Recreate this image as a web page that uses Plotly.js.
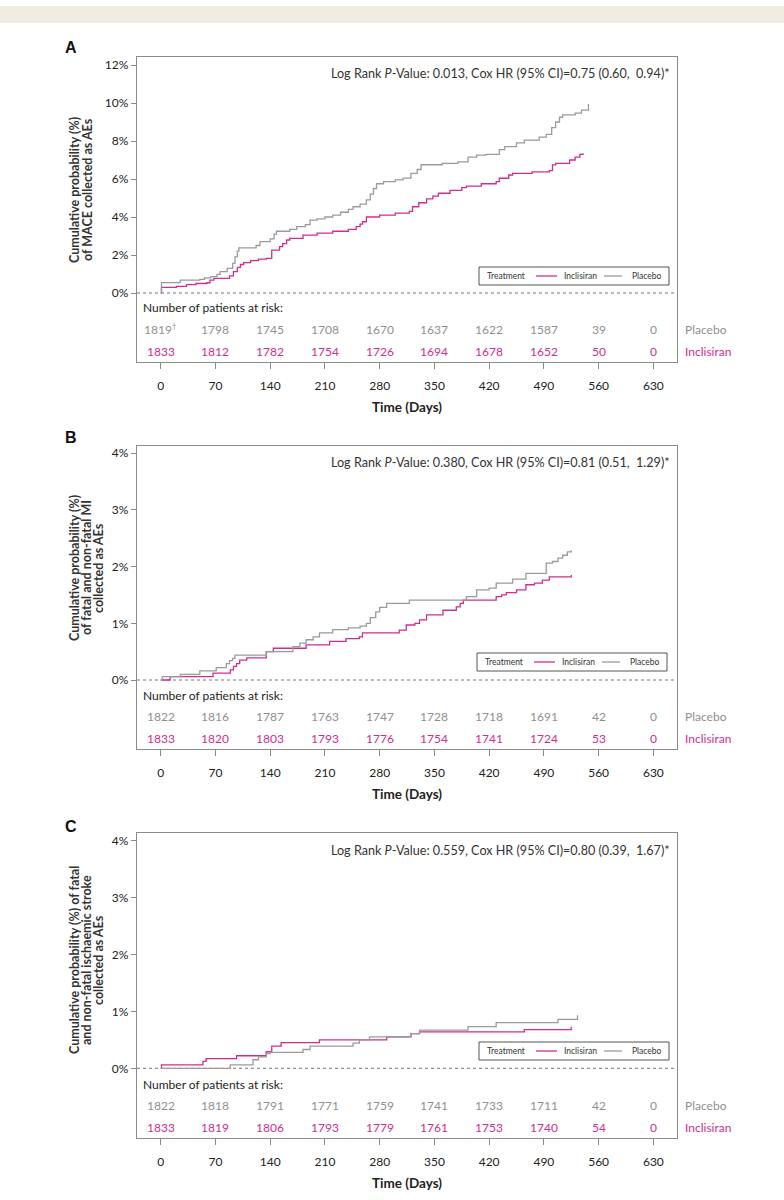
<!DOCTYPE html>
<html>
<head>
<meta charset="utf-8">
<script src="https://cdn.plot.ly/plotly-3.0.1.min.js"></script>
<style>html,body{margin:0;padding:0;background:#fff;}#chart{width:784px;height:1200px;}</style>
</head>
<body>
<div id="chart"></div>
<script>
// ---------- data ----------
const timeTicks = [0, 70, 140, 210, 280, 350, 420, 490, 560, 630];

// Panel A: MACE
const aPlaceboT = [0, 1, 25, 50, 56, 64, 72, 76, 85, 92, 95, 98, 100, 122, 127, 140, 145, 148, 165, 174, 185, 191, 200, 210, 220, 230, 240, 246, 255, 263, 268, 272, 276, 285, 300, 310, 320, 328, 333, 360, 380, 393, 404, 416, 433, 440, 455, 465, 484, 493, 500, 505, 510, 514, 530, 538, 546, 547];
const aPlaceboP = [0, 0.55, 0.68, 0.72, 0.8, 0.86, 0.98, 1.12, 1.3, 1.56, 1.9, 2.2, 2.38, 2.5, 2.7, 2.85, 3.1, 3.25, 3.35, 3.49, 3.6, 3.84, 3.9, 4.0, 4.1, 4.25, 4.4, 4.54, 4.68, 4.9, 5.2, 5.5, 5.75, 5.86, 5.95, 6.05, 6.3, 6.5, 6.75, 6.82, 6.9, 7.15, 7.26, 7.3, 7.55, 7.7, 7.9, 8.05, 8.2, 8.35, 8.7, 9.0, 9.25, 9.37, 9.47, 9.63, 9.63, 9.95];
const aInclT = [0, 1, 20, 33, 45, 59, 63, 68, 88, 93, 98, 102, 106, 115, 125, 135, 142, 152, 156, 161, 165, 182, 200, 220, 240, 250, 255, 258, 263, 280, 300, 318, 322, 330, 340, 348, 355, 370, 385, 391, 410, 429, 433, 445, 450, 475, 497, 501, 505, 523, 530, 536, 540];
const aInclP = [0, 0.3, 0.35, 0.44, 0.5, 0.54, 0.68, 0.77, 0.9, 1.12, 1.35, 1.5, 1.6, 1.7, 1.78, 1.82, 2.26, 2.44, 2.6, 2.79, 2.88, 3.05, 3.15, 3.25, 3.35, 3.49, 3.62, 3.75, 4.0, 4.1, 4.2, 4.3, 4.54, 4.75, 4.95, 5.1, 5.25, 5.4, 5.55, 5.63, 5.75, 5.86, 6.04, 6.21, 6.3, 6.38, 6.44, 6.74, 6.82, 7.0, 7.15, 7.3, 7.35];
const aRiskPlacebo = [1819, 1798, 1745, 1708, 1670, 1637, 1622, 1587, 39, 0];
const aRiskIncl = [1833, 1812, 1782, 1754, 1726, 1694, 1678, 1652, 50, 0];
const aStats = 'Log Rank <i>P</i>-Value: 0.013, Cox HR (95% CI)=0.75 (0.60,\u00a0\u00a00.94)*';
const aYTicks = [0, 2, 4, 6, 8, 10, 12];
const aYTitle = ['Cumulative probability (%)', 'of MACE collected as AEs'];

// Panel B: fatal and non-fatal MI
const bPlaceboT = [0, 2, 25, 50, 71, 84, 88, 92, 95, 135, 169, 178, 186, 195, 203, 220, 240, 255, 263, 268, 275, 280, 289, 318, 391, 404, 420, 429, 450, 467, 493, 501, 508, 514, 520, 525];
const bPlaceboP = [0, 0.06, 0.1, 0.16, 0.22, 0.29, 0.34, 0.38, 0.44, 0.5, 0.59, 0.65, 0.71, 0.76, 0.83, 0.89, 0.92, 0.95, 1.0, 1.1, 1.2, 1.28, 1.35, 1.41, 1.47, 1.59, 1.62, 1.71, 1.78, 1.88, 2.06, 2.09, 2.15, 2.2, 2.26, 2.29];
const bInclT = [0, 12, 67, 89, 93, 97, 101, 110, 135, 144, 186, 216, 237, 254, 258, 305, 314, 325, 331, 340, 361, 378, 383, 387, 429, 436, 442, 455, 467, 478, 488, 497, 525];
const bInclP = [0, 0.06, 0.12, 0.18, 0.24, 0.29, 0.35, 0.39, 0.5, 0.56, 0.62, 0.68, 0.73, 0.76, 0.83, 0.88, 0.97, 1.0, 1.06, 1.15, 1.23, 1.29, 1.35, 1.41, 1.47, 1.5, 1.54, 1.59, 1.68, 1.71, 1.76, 1.82, 1.85];
const bRiskPlacebo = [1822, 1816, 1787, 1763, 1747, 1728, 1718, 1691, 42, 0];
const bRiskIncl = [1833, 1820, 1803, 1793, 1776, 1754, 1741, 1724, 53, 0];
const bStats = 'Log Rank <i>P</i>-Value: 0.380, Cox HR (95% CI)=0.81 (0.51,\u00a0\u00a01.29)*';
const bYTicks = [0, 1, 2, 3, 4];
const bYTitle = ['Cumulative probability (%)', 'of fatal and non-fatal MI', 'collected as AEs'];

// Panel C: fatal and non-fatal ischaemic stroke
const cPlaceboT = [0, 89, 118, 125, 135, 140, 182, 191, 246, 254, 267, 320, 331, 393, 429, 508, 533];
const cPlaceboP = [0, 0.06, 0.15, 0.2, 0.26, 0.28, 0.33, 0.39, 0.44, 0.5, 0.55, 0.61, 0.67, 0.73, 0.8, 0.86, 0.93];
const cInclT = [0, 1, 54, 58, 97, 135, 142, 154, 203, 289, 320, 331, 465, 525];
const cInclP = [0, 0.06, 0.12, 0.17, 0.22, 0.29, 0.39, 0.45, 0.5, 0.55, 0.61, 0.64, 0.68, 0.73];
const cRiskPlacebo = [1822, 1818, 1791, 1771, 1759, 1741, 1733, 1711, 42, 0];
const cRiskIncl = [1833, 1819, 1806, 1793, 1779, 1761, 1753, 1740, 54, 0];
const cStats = 'Log Rank <i>P</i>-Value: 0.559, Cox HR (95% CI)=0.80 (0.39,\u00a0\u00a01.67)*';
const cYTicks = [0, 1, 2, 3, 4];
const cYTitle = ['Cumulative probability (%) of fatal', 'and non-fatal ischaemic stroke', 'collected as AEs'];

const panelLetters = ['A', 'B', 'C'];
const seriesNames = ['Inclisiran', 'Placebo'];
const legendTitle = 'Treatment';
const riskHeader = 'Number of patients at risk:';
const footMark = '<sup>\u2020</sup>';

// ---------- styling / layout helpers ----------
const W = 784, H = 1200, L = 137, R = 677;
const MAG = '#cf2e8e', GREY = '#9b9b9b', GREYTXT = '#8f8f8f', AXC = '#8a8a8a';
const FONT = 'Lato, "Open Sans", sans-serif';
const px = x => (x - L) / (R - L);
const py = y => 1 - y / H;

const panels = [
  {top: 57,  bot: 362,  zero: 293,    ppu: 19,   ticks: aYTicks, pl: [aPlaceboT, aPlaceboP], inc: [aInclT, aInclP], rp: aRiskPlacebo, ri: aRiskIncl, stats: aStats, yt: aYTitle, ytx: [74, 87], ytc: 190, letterY: 47, legB: 285, legR: 669},
  {top: 446, bot: 749,  zero: 680,    ppu: 56.7, ticks: bYTicks, pl: [bPlaceboT, bPlaceboP], inc: [bInclT, bInclP], rp: bRiskPlacebo, ri: bRiskIncl, stats: bStats, yt: bYTitle, ytx: [74, 86, 98], ytc: 568, letterY: 437, legB: 671, legR: 667},
  {top: 833, bot: 1138, zero: 1068.3, ppu: 57,   ticks: cYTicks, pl: [cPlaceboT, cPlaceboP], inc: [cInclT, cInclP], rp: cRiskPlacebo, ri: cRiskIncl, stats: cStats, yt: cYTitle, ytx: [74, 86, 98], ytc: 960, letterY: 826, legB: 1060, legR: 669}
];

const data = [];
const annotations = [];
const shapes = [];
const layout = {
  width: W, height: H,
  margin: {l: L, r: W - R, t: 0, b: 0, autoexpand: false},
  paper_bgcolor: '#fff', plot_bgcolor: '#fff',
  font: {family: FONT, color: '#222', size: 12},
  showlegend: false,
  annotations: annotations, shapes: shapes
};

// top beige band
shapes.push({type: 'rect', xref: 'paper', yref: 'paper', x0: px(0), x1: px(W), y0: py(23), y1: py(6),
  fillcolor: '#efece0', line: {width: 0}, layer: 'below'});

const xRange = [(L - 160.7) / 0.782, (R - 160.7) / 0.782];

panels.forEach((p, i) => {
  const s = i === 0 ? '' : String(i + 1);
  const xa = 'x' + s, ya = 'y' + s;
  const yRange = [(p.zero - p.bot) / p.ppu, (p.zero - p.top) / p.ppu];

  layout['xaxis' + s] = {
    domain: [0, 1], anchor: ya, range: xRange,
    tickmode: 'array', tickvals: timeTicks, ticks: 'outside', ticklen: 6, tickwidth: 1, tickcolor: AXC,
    showline: true, linecolor: AXC, linewidth: 1.3, mirror: true,
    showgrid: false, zeroline: false, ticklabelstandoff: 6,
    tickfont: {size: 12, color: '#222', family: FONT},
    title: {text: 'Time (Days)', font: {size: 13.5, color: '#222', family: FONT, weight: 'bold'}, standoff: 10}
  };
  layout['yaxis' + s] = {
    domain: [py(p.bot), py(p.top)], anchor: xa, range: yRange,
    tickmode: 'array', tickvals: p.ticks, ticktext: p.ticks.map(v => v + '%'),
    ticks: 'outside', ticklen: 5, tickwidth: 1, tickcolor: AXC,
    showline: true, linecolor: AXC, linewidth: 1.3, mirror: true,
    showgrid: false, zeroline: false,
    tickfont: {size: 12, color: '#222', family: FONT}
  };

  // curves
  [[p.inc, MAG, seriesNames[0]], [p.pl, GREY, seriesNames[1]]].forEach(([xy, col, nm]) => {
    data.push({
      type: 'scatter', mode: 'lines', x: xy[0], y: xy[1], name: nm,
      line: {shape: 'hv', color: col, width: 1.3},
      xaxis: xa, yaxis: ya, hoverinfo: 'skip'
    });
  });

  // dashed zero reference line
  shapes.push({type: 'line', xref: xa + ' domain', yref: ya, x0: 0, x1: 1, y0: 0, y1: 0,
    line: {color: '#777', width: 1, dash: '3px,3px'}, layer: 'below'});

  // legend box (Treatment | Inclisiran | Placebo)
  const lr = p.legR, lb = p.legB, lm = lb - 9;
  shapes.push({type: 'rect', xref: 'paper', yref: 'paper', x0: px(lr - 190), x1: px(lr), y0: py(lb), y1: py(lb - 18),
    fillcolor: '#fff', line: {color: '#555', width: 1}, layer: 'above'});
  shapes.push({type: 'line', xref: 'paper', yref: 'paper', x0: px(lr - 133), x1: px(lr - 112), y0: py(lm), y1: py(lm),
    line: {color: MAG, width: 1.3}, layer: 'above'});
  shapes.push({type: 'line', xref: 'paper', yref: 'paper', x0: px(lr - 65), x1: px(lr - 47), y0: py(lm), y1: py(lm),
    line: {color: GREY, width: 1.3}, layer: 'above'});
  [[legendTitle, lr - 184], [seriesNames[0], lr - 107], [seriesNames[1], lr - 39]].forEach(([t, xx]) => {
    annotations.push({text: t, xref: 'paper', yref: 'paper', x: px(xx), y: py(lm),
      xanchor: 'left', yanchor: 'middle', showarrow: false,
      font: {family: FONT, size: 8.5, color: '#333'}});
  });

  // panel letter
  annotations.push({text: panelLetters[i], xref: 'paper', yref: 'paper', x: px(71), y: py(p.letterY),
    xanchor: 'center', yanchor: 'middle', showarrow: false,
    font: {family: '"Liberation Sans", Arial, sans-serif', size: 16, color: '#111', weight: 'bold'}});

  // stats text
  annotations.push({text: p.stats, xref: 'paper', yref: 'paper', x: px(672), y: py(p.top + 17),
    xanchor: 'right', yanchor: 'middle', showarrow: false,
    font: {family: FONT, size: 12.6, color: '#333'}});

  // y-axis title lines
  p.yt.forEach((t, k) => {
    annotations.push({text: t, xref: 'paper', yref: 'paper', x: px(p.ytx[k]), y: py(p.ytc),
      xanchor: 'center', yanchor: 'middle', textangle: -90, showarrow: false,
      font: {family: FONT, size: 12.5, color: '#333', weight: 'bold'}});
  });

  // number at risk header
  annotations.push({text: riskHeader, xref: 'paper', yref: 'paper', x: px(141), y: py(p.bot - 54),
    xanchor: 'left', yanchor: 'middle', showarrow: false,
    font: {family: FONT, size: 12, color: '#222'}});

  // number at risk rows
  timeTicks.forEach((d, k) => {
    const lblP = String(p.rp[k]) + (i === 0 && k === 0 ? footMark : '');
    annotations.push({text: lblP, xref: xa, yref: 'paper', x: d, y: py(p.bot - 33),
      xanchor: 'center', yanchor: 'middle', showarrow: false,
      font: {family: FONT, size: 12, color: GREYTXT}});
    annotations.push({text: String(p.ri[k]), xref: xa, yref: 'paper', x: d, y: py(p.bot - 11),
      xanchor: 'center', yanchor: 'middle', showarrow: false,
      font: {family: FONT, size: 12, color: MAG}});
  });

  // row labels
  annotations.push({text: seriesNames[1], xref: 'paper', yref: 'paper', x: px(683), y: py(p.bot - 33),
    xanchor: 'left', yanchor: 'middle', showarrow: false, font: {family: FONT, size: 12, color: GREYTXT}});
  annotations.push({text: seriesNames[0], xref: 'paper', yref: 'paper', x: px(683), y: py(p.bot - 11),
    xanchor: 'left', yanchor: 'middle', showarrow: false, font: {family: FONT, size: 12, color: MAG}});
});

Plotly.newPlot('chart', data, layout, {staticPlot: true, displayModeBar: false});
</script>
</body>
</html>
